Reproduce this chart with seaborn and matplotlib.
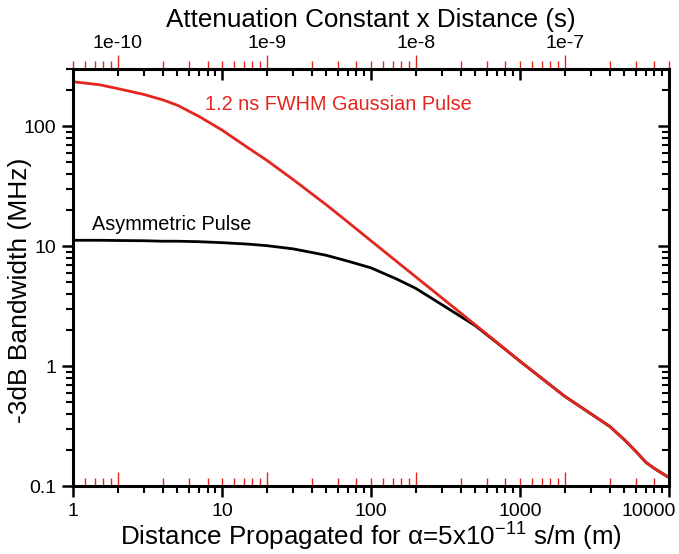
import numpy as np
import pandas as pd
import matplotlib
matplotlib.use("Agg")
import matplotlib.pyplot as plt
import matplotlib.transforms as mtransforms
import seaborn as sns
from matplotlib.ticker import FixedLocator, FixedFormatter, NullFormatter

# ---- data ----
distance = [1, 1.5, 2, 3, 4, 5, 7, 10, 15, 20, 30, 50, 70, 100, 150, 200, 300,
            500, 700, 1000, 2000, 3000, 4000, 5000, 6000, 7000, 8000, 10000]
gauss_bw = [235, 222, 206, 184, 166, 150, 121, 93, 66, 52, 36, 22.2, 15.9, 11.1,
            7.4, 5.55, 3.7, 2.22, 1.58, 1.1, 0.56, 0.40, 0.315, 0.245, 0.195,
            0.158, 0.14, 0.118]
asym_bw = [11.2, 11.2, 11.15, 11.1, 11.0, 11.0, 10.9, 10.7, 10.4, 10.1, 9.5, 8.4,
           7.5, 6.6, 5.3, 4.45, 3.25, 2.18, 1.57, 1.1, 0.56, 0.40, 0.315, 0.245,
           0.195, 0.158, 0.14, 0.118]
series_names = ["Asymmetric Pulse", "1.2 ns FWHM Gaussian Pulse"]
alpha = 5e-11
x_ticks = [1, 10, 100, 1000, 10000]
x_ticklabels = ["1", "10", "100", "1000", "10000"]
y_ticks = [0.1, 1, 10, 100]
y_ticklabels = ["0.1", "1", "10", "100"]
s_ticks = [1e-10, 1e-9, 1e-8, 1e-7]
s_ticklabels = ["1e-10", "1e-9", "1e-8", "1e-7"]

RED = "#e4261f"

sns.set_theme(style="ticks")
plt.rcParams["font.family"] = ["Liberation Sans", "DejaVu Sans"]
plt.rcParams["mathtext.fontset"] = "custom"
plt.rcParams["mathtext.rm"] = "Liberation Sans"
plt.rcParams["mathtext.default"] = "regular"
plt.rcParams["text.color"] = "black"
plt.rcParams["axes.labelcolor"] = "black"
plt.rcParams["xtick.color"] = "black"
plt.rcParams["ytick.color"] = "black"
plt.rcParams["axes.edgecolor"] = "black"

df = pd.DataFrame({
    "distance": distance * 2,
    "bandwidth": asym_bw + gauss_bw,
    "pulse": [series_names[0]] * len(distance) + [series_names[1]] * len(distance),
})

fig = plt.figure(figsize=(6.79, 5.54), dpi=100)
ax = fig.add_axes([0.1075, 0.1227, 0.8775, 0.7527])

sns.lineplot(data=df, x="distance", y="bandwidth", hue="pulse",
             hue_order=series_names, palette={series_names[0]: "black", series_names[1]: RED},
             linewidth=2.0, legend=False, errorbar=None, sort=False, ax=ax)

ax.set_xscale("log")
ax.set_yscale("log")
ax.set_xlim(1, 10000)
ax.set_ylim(0.1, 300)

minor_x = [k * 10.0 ** e for e in range(0, 4) for k in range(2, 10)]
minor_y = [k * 10.0 ** e for e in range(-1, 3) for k in range(2, 10)]
minor_s = [k * 10.0 ** e for e in range(-11, -6) for k in range(2, 10)]
minor_s = [v for v in minor_s if 4.99e-11 <= v <= 5.01e-7 and v not in s_ticks]

ax.xaxis.set_major_locator(FixedLocator(x_ticks))
ax.xaxis.set_major_formatter(FixedFormatter(x_ticklabels))
ax.xaxis.set_minor_locator(FixedLocator(minor_x))
ax.xaxis.set_minor_formatter(NullFormatter())
ax.yaxis.set_major_locator(FixedLocator(y_ticks))
ax.yaxis.set_major_formatter(FixedFormatter(y_ticklabels))
ax.yaxis.set_minor_locator(FixedLocator(minor_y))
ax.yaxis.set_minor_formatter(NullFormatter())

ax.tick_params(which="both", direction="out", top=False, right=False, color="black",
               labelsize=14, labelcolor="black")
ax.tick_params(which="major", length=8, width=1.8, pad=4)
ax.tick_params(which="minor", length=5, width=1.5)
for sp in ax.spines.values():
    sp.set_linewidth(2.2)
    sp.set_color("black")
    sp.set_visible(True)

ax.set_xlabel(r"Distance Propagated for α=5x10$^{-11}$ s/m (m)", fontsize=18.7,
              labelpad=1, color="black")
ax.set_ylabel("-3dB Bandwidth (MHz)", fontsize=19, color="black")
ax.yaxis.set_label_coords(-0.068, 0.47)

# inward black ticks on top and right (mirror of main scales)
top_id = ax.secondary_xaxis("top")
top_id.xaxis.set_major_locator(FixedLocator(x_ticks))
top_id.xaxis.set_minor_locator(FixedLocator(minor_x))
top_id.xaxis.set_major_formatter(NullFormatter())
top_id.xaxis.set_minor_formatter(NullFormatter())
top_id.tick_params(which="both", direction="in", color="black")
top_id.tick_params(which="major", length=8, width=1.8)
top_id.tick_params(which="minor", length=5, width=1.5)
for sp in top_id.spines.values():
    sp.set_visible(False)

right_id = ax.secondary_yaxis("right")
right_id.yaxis.set_major_locator(FixedLocator(y_ticks))
right_id.yaxis.set_minor_locator(FixedLocator(minor_y))
right_id.yaxis.set_major_formatter(NullFormatter())
right_id.yaxis.set_minor_formatter(NullFormatter())
right_id.tick_params(which="both", direction="in", color="black")
right_id.tick_params(which="major", length=8, width=1.8)
right_id.tick_params(which="minor", length=5, width=1.5)
for sp in right_id.spines.values():
    sp.set_visible(False)

# red time axis (top, outward, labelled)
fwd = lambda d: np.asarray(d) * alpha
inv = lambda s: np.asarray(s) / alpha
sec = ax.secondary_xaxis("top", functions=(fwd, inv))
sec.xaxis.set_major_locator(FixedLocator(s_ticks))
sec.xaxis.set_major_formatter(FixedFormatter(s_ticklabels))
sec.xaxis.set_minor_locator(FixedLocator(minor_s))
sec.xaxis.set_minor_formatter(NullFormatter())
sec.tick_params(which="both", direction="out", color=RED, labelsize=14, labelcolor="black")
sec.tick_params(which="major", length=10, width=1.0, pad=2)
sec.tick_params(which="minor", length=6, width=1.0)
for sp in sec.spines.values():
    sp.set_visible(False)
sec.set_xlabel("Attenuation Constant x Distance (s)", fontsize=18.7, labelpad=6, color="black")

# red time-axis ticks mirrored inward at bottom
secb = ax.secondary_xaxis("bottom", functions=(fwd, inv))
secb.xaxis.set_major_locator(FixedLocator(s_ticks))
secb.xaxis.set_minor_locator(FixedLocator(minor_s))
secb.xaxis.set_major_formatter(NullFormatter())
secb.xaxis.set_minor_formatter(NullFormatter())
secb.tick_params(which="both", direction="in", color=RED)
secb.tick_params(which="major", length=10, width=1.0)
secb.tick_params(which="minor", length=6, width=1.0)
for sp in secb.spines.values():
    sp.set_visible(False)

ax.text(7.7, 151, series_names[1], color=RED, fontsize=14.3, ha="left", va="center")
ax.text(1.35, 15.3, series_names[0], color="black", fontsize=14.3, ha="left", va="center")

# last bottom tick label sits inside the figure, right-aligned near the edge
fig.canvas.draw()
last = ax.get_xticklabels()[-1]
last.set_horizontalalignment("right")
last.set_transform(last.get_transform() +
                   mtransforms.ScaledTranslation(5 / 72, 0, fig.dpi_scale_trans))

fig.savefig("out.png", dpi=100)
